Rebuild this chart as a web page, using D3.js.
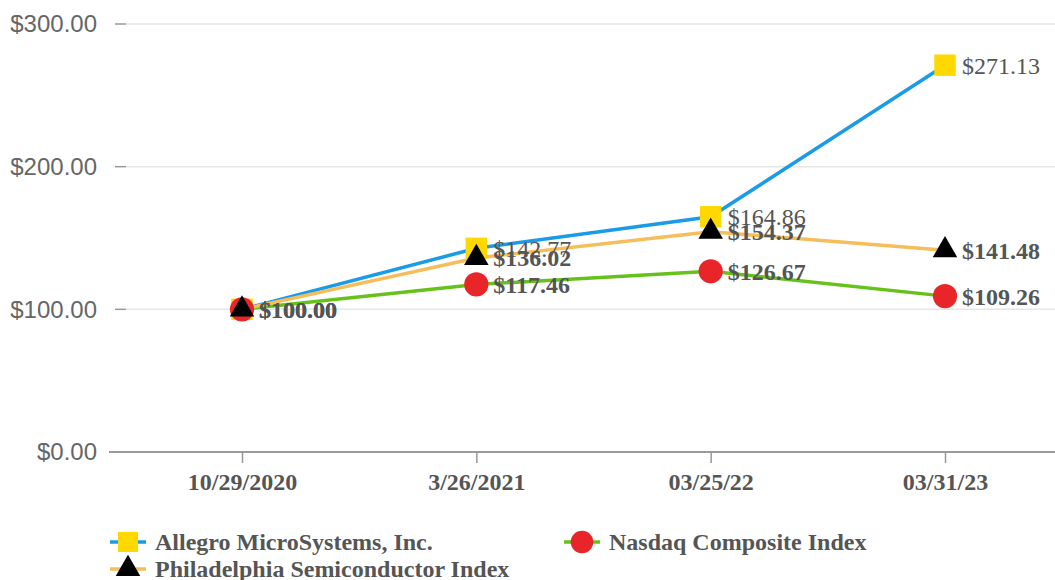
<!DOCTYPE html>
<html>
<head>
<meta charset="utf-8">
<script src="https://d3js.org/d3.v7.min.js"></script>
<style>
	body { margin: 0; background: #fff; }
	svg { display: block; }
</style>
</head>
<body>
<svg width="1055" height="580"></svg>
<script>
const dates = ["10/29/2020", "3/26/2021", "03/25/22", "03/31/23"];
const allegro = [100.00, 142.77, 164.86, 271.13];
const nasdaq = [100.00, 117.46, 126.67, 109.26];
const sox = [100.00, 136.02, 154.37, 141.48];
const yTicks = [0, 100, 200, 300];

const series = [
	{name: "Allegro MicroSystems, Inc.", values: allegro, line: "#1a9be8", fill: "#ffd800", shape: d3.symbolSquare, weight: "normal"},
	{name: "Nasdaq Composite Index", values: nasdaq, line: "#66c21a", fill: "#e8262a", shape: d3.symbolCircle, weight: "bold"},
	{name: "Philadelphia Semiconductor Index", values: sox, line: "#f5be5a", fill: "#000", shape: d3.symbolTriangle, weight: "bold"}
];

const svg = d3.select("svg");
const width = +svg.attr("width");

const x = d3.scalePoint().domain(dates).range([242, 945]);
const y = d3.scaleLinear().domain([0, 300]).range([452, 24]);

const fmt = d3.format("$,.2f");
const serif = "Liberation Serif, Times New Roman, serif";

// grid + y axis
let yAxis = svg.append("g").attr("class", "y-axis");
yAxis.selectAll("line.grid").data(yTicks.slice(1)).enter().append("line")
	.attr("x1", 126).attr("x2", width)
	.attr("y1", d => y(d)).attr("y2", d => y(d))
	.attr("stroke", "#e6e6e6").attr("stroke-width", 1.5);
yAxis.selectAll("line.tick").data(yTicks).enter().append("line")
	.attr("x1", 115).attr("x2", 126)
	.attr("y1", d => y(d)).attr("y2", d => y(d))
	.attr("stroke", "#999").attr("stroke-width", 1.5);
yAxis.selectAll("text").data(yTicks).enter().append("text")
	.attr("x", 97).attr("y", d => y(d)).attr("dy", "0.35em")
	.attr("text-anchor", "end")
	.attr("font-family", "Liberation Sans, Arial, sans-serif")
	.attr("font-size", 24).attr("fill", "#666")
	.text(d => fmt(d));

// x axis
let xAxis = svg.append("g")
	.attr("transform", "translate(0," + y(0) + ")")
	.call(d3.axisBottom(x).tickSize(11).tickPadding(10));
xAxis.select(".domain").remove();
xAxis.insert("line", ":first-child")
	.attr("x1", 109).attr("x2", width)
	.attr("stroke", "#999").attr("stroke-width", 2);
xAxis.selectAll(".tick line").attr("stroke", "#999").attr("stroke-width", 1.5);
xAxis.selectAll(".tick text")
	.attr("font-family", serif)
	.attr("font-weight", "bold").attr("font-size", 24).attr("fill", "#555");

// lines
const line = d3.line().x((d, i) => x(dates[i])).y(d => y(d));
svg.append("g").selectAll("path").data(series).enter().append("path")
	.attr("d", d => line(d.values))
	.attr("fill", "none")
	.attr("stroke", d => d.line)
	.attr("stroke-width", 3.5);

// markers
series.forEach(function(s) {
	svg.append("g").selectAll("path").data(s.values).enter().append("path")
		.attr("transform", (d, i) => "translate(" + x(dates[i]) + "," + y(d) + ")")
		.attr("d", d3.symbol().type(s.shape).size(s.shape === d3.symbolTriangle ? 260 : 460))
		.attr("fill", s.fill);
});

// labels
series.forEach(function(s) {
	svg.append("g").selectAll("text").data(s.values).enter().append("text")
		.attr("x", (d, i) => x(dates[i]) + 17)
		.attr("y", d => y(d)).attr("dy", "0.35em")
		.attr("font-family", serif)
		.attr("font-size", 24)
		.attr("font-weight", s.weight)
		.attr("fill", "#555")
		.text(d => fmt(d));
});

// legend
const legendPos = [[110, 542], [564, 542], [110, 569]];
let legend = svg.append("g").selectAll("g").data(series).enter().append("g")
	.attr("transform", (d, i) => "translate(" + legendPos[i][0] + "," + legendPos[i][1] + ")");
legend.append("line")
	.attr("x1", 0).attr("x2", 36)
	.attr("stroke", d => d.line).attr("stroke-width", 3.5);
legend.append("path")
	.attr("transform", "translate(18,0)")
	.attr("d", d => d3.symbol().type(d.shape).size(d.shape === d3.symbolTriangle ? 260 : 400)())
	.attr("fill", d => d.fill);
legend.append("text")
	.attr("x", 45).attr("dy", "0.35em")
	.attr("font-family", serif)
	.attr("font-weight", "bold").attr("font-size", 24).attr("fill", "#555")
	.text(d => d.name);
</script>
</body>
</html>
